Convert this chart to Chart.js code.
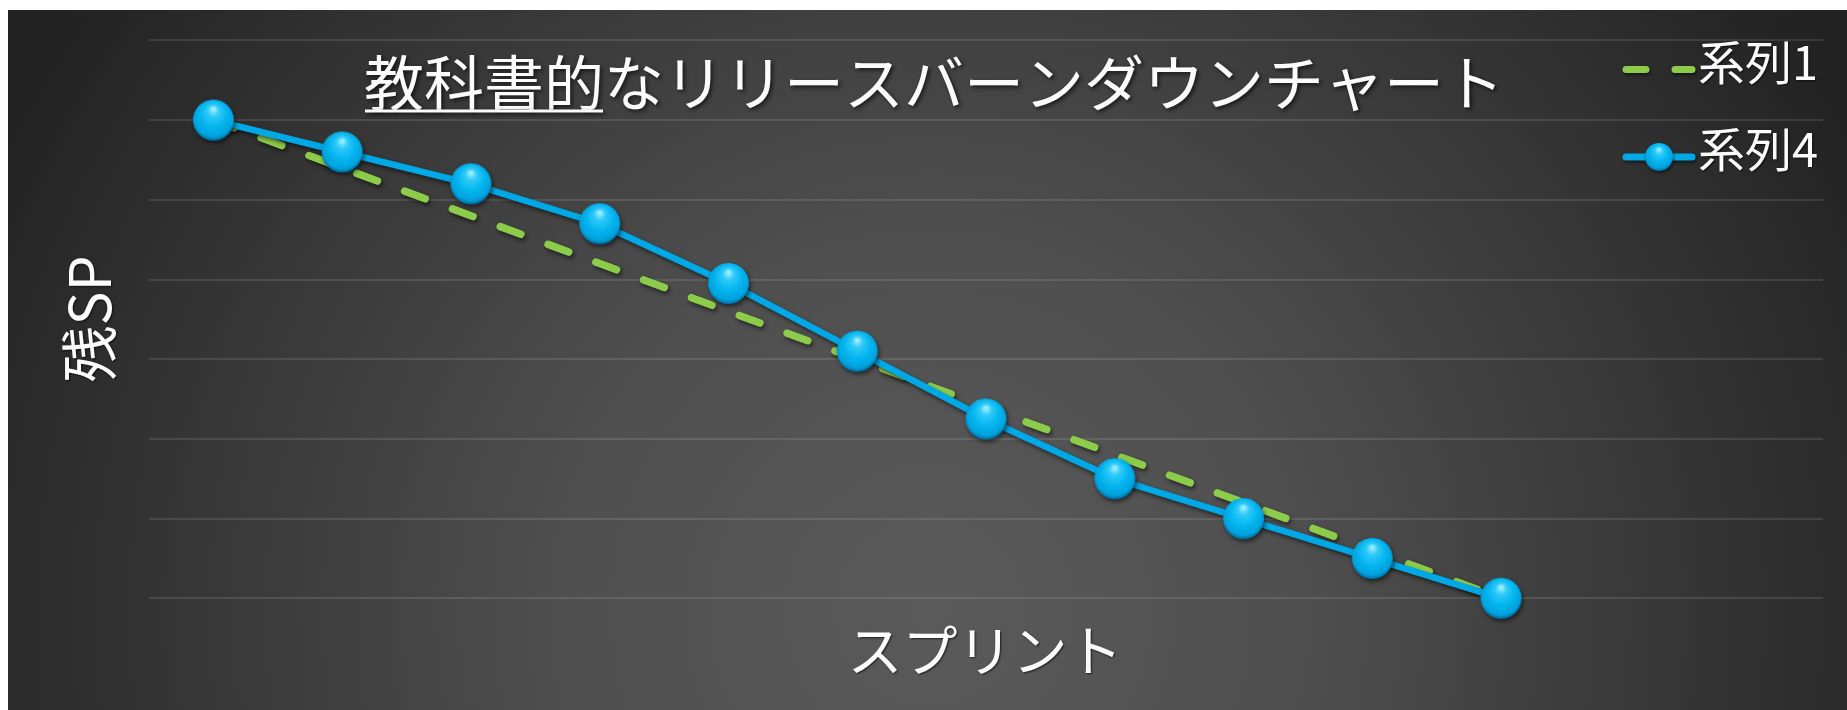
<!DOCTYPE html>
<html lang="ja">
<head>
<meta charset="utf-8">
<title>リリースバーンダウンチャート</title>
<script src="https://cdn.jsdelivr.net/npm/chart.js@4.4.1/dist/chart.umd.min.js"></script>
<style>
  html, body { margin: 0; padding: 0; background: #ffffff; }
  #wrap { position: absolute; left: 8px; top: 10px; width: 1839px; height: 700px; }
  canvas { display: block; }
</style>
</head>
<body>
<div id="wrap"><canvas id="burndown" width="1839" height="700" style="width:1839px;height:700px"></canvas></div>
<script>
// Sprints along the x axis (the last two are still to come)
const sprintLabels = ['S0', 'S1', 'S2', 'S3', 'S4', 'S5', 'S6', 'S7', 'S8', 'S9', 'S10', 'S11', 'S12'];
// 系列1: ideal remaining story points
const idealRemaining = [60, 54, 48, 42, 36, 30, 24, 18, 12, 6, 0];
// 系列4: actual remaining story points
const actualRemaining = [60, 56, 52, 47, 39.5, 31, 22.5, 15, 10, 5, 0];
// y axis range (tick labels are hidden, only grid lines show)
const yAxisMin = 0;
const yAxisMax = 70;
const yAxisStep = 10;

const seriesNames = ['系列1', '系列4'];
const titleUnderlined = '教科書的';
const titleRest = 'なリリースバーンダウンチャート';
const xAxisTitle = 'スプリント';
const yAxisTitle = '残SP';

const JP_FONT = '"Noto Sans CJK JP", "Noto Sans", sans-serif';
const BLUE = '#00a8e6';
const GREEN = '#8dcc4b';

// Glossy sphere used as the point marker
function makeSphere(r) {
  const size = Math.ceil(r * 2 + 2);
  const c = document.createElement('canvas');
  c.width = size; c.height = size;
  const g = c.getContext('2d');
  const cx = size / 2, cy = size / 2;
  const grad = g.createRadialGradient(cx, cy - r * 0.55, r * 0.05, cx, cy - r * 0.1, r * 1.12);
  grad.addColorStop(0, '#9eeeff');
  grad.addColorStop(0.22, '#2fcaf8');
  grad.addColorStop(0.55, '#05b6f0');
  grad.addColorStop(0.85, '#00a3de');
  grad.addColorStop(1, '#00689a');
  g.beginPath();
  g.arc(cx, cy, r, 0, Math.PI * 2);
  g.fillStyle = grad;
  g.fill();
  return c;
}
const sphereMarker = makeSphere(20.5);
const sphereLegend = makeSphere(14);

// Background: soft radial glow on dark grey
const backgroundPlugin = {
  id: 'darkGlow',
  beforeDraw(chart) {
    const { ctx, width, height } = chart;
    ctx.save();
    const grad = ctx.createRadialGradient(922, 600, 0, 922, 600, 1050);
    grad.addColorStop(0, '#5a5a5a');
    grad.addColorStop(0.35, '#4f4f4f');
    grad.addColorStop(1, '#222222');
    ctx.fillStyle = grad;
    ctx.fillRect(0, 0, width, height);
    ctx.restore();
  }
};

// Soft shadow under the lines and markers
const shadowPlugin = {
  id: 'seriesShadow',
  beforeDatasetDraw(chart) {
    const ctx = chart.ctx;
    ctx.save();
    ctx.shadowColor = 'rgba(0,0,0,0.55)';
    ctx.shadowBlur = 4;
    ctx.shadowOffsetX = 1.5;
    ctx.shadowOffsetY = 2.5;
  },
  afterDatasetDraw(chart) {
    chart.ctx.restore();
  }
};

function shadowText(ctx, text, x, y, blur, off) {
  ctx.save();
  ctx.shadowColor = 'rgba(0,0,0,0.65)';
  ctx.shadowBlur = blur;
  ctx.shadowOffsetX = off;
  ctx.shadowOffsetY = off;
  ctx.fillStyle = '#fbfbfb';
  ctx.fillText(text, x, y);
  ctx.restore();
}

// Title, axis titles and legend drawn over the plot
const textPlugin = {
  id: 'overlayText',
  afterDraw(chart) {
    const ctx = chart.ctx;
    ctx.save();

    // Title with the first word underlined
    ctx.font = '400 60px ' + JP_FONT;
    ctx.textBaseline = 'middle';
    ctx.textAlign = 'left';
    const tx = 356, ty = 73;
    shadowText(ctx, titleUnderlined + titleRest, tx, ty, 4, 2);
    const uw = ctx.measureText(titleUnderlined).width;
    ctx.save();
    ctx.shadowColor = 'rgba(0,0,0,0.65)';
    ctx.shadowBlur = 4; ctx.shadowOffsetX = 2; ctx.shadowOffsetY = 2;
    ctx.fillStyle = '#fbfbfb';
    ctx.fillRect(tx + 1, 99.5, uw - 2, 3);
    ctx.restore();

    // Axis titles
    ctx.font = '400 55px ' + JP_FONT;
    ctx.textAlign = 'center';
    shadowText(ctx, xAxisTitle, 977, 640, 2, 1);
    ctx.save();
    ctx.translate(81, 309);
    ctx.rotate(-Math.PI / 2);
    ctx.font = '400 57px ' + JP_FONT;
    shadowText(ctx, yAxisTitle, 0, 0, 2, 1);
    ctx.restore();

    // Legend
    ctx.font = '400 47px ' + JP_FONT;
    ctx.textAlign = 'left';
    shadowText(ctx, seriesNames[0], 1690, 52, 2, 1);
    shadowText(ctx, seriesNames[1], 1690, 139, 2, 1);

    ctx.save();
    ctx.shadowColor = 'rgba(0,0,0,0.5)';
    ctx.shadowBlur = 3; ctx.shadowOffsetX = 1; ctx.shadowOffsetY = 2;
    ctx.lineCap = 'round';
    ctx.lineWidth = 7;
    ctx.strokeStyle = GREEN;
    ctx.beginPath();
    ctx.moveTo(1618, 59.5); ctx.lineTo(1638, 59.5);
    ctx.moveTo(1667, 59.5); ctx.lineTo(1684, 59.5);
    ctx.stroke();
    ctx.strokeStyle = BLUE;
    ctx.beginPath();
    ctx.moveTo(1618, 147); ctx.lineTo(1684, 147);
    ctx.stroke();
    ctx.drawImage(sphereLegend, 1651 - sphereLegend.width / 2, 147 - sphereLegend.height / 2);
    ctx.restore();

    ctx.restore();
  }
};

new Chart(document.getElementById('burndown'), {
  type: 'line',
  data: {
    labels: sprintLabels,
    datasets: [
      {
        label: seriesNames[1],
        data: actualRemaining,
        borderColor: BLUE,
        borderWidth: 6.5,
        pointStyle: sphereMarker,
        pointRadius: 20,
        pointHoverRadius: 20,
        tension: 0,
        clip: false,
        order: 0
      },
      {
        label: seriesNames[0],
        data: idealRemaining,
        borderColor: GREEN,
        borderWidth: 7.5,
        borderDash: [22, 29],
        borderCapStyle: 'round',
        pointRadius: 0,
        pointHoverRadius: 0,
        tension: 0,
        clip: false,
        order: 1
      }
    ]
  },
  options: {
    responsive: false,
    animation: false,
    devicePixelRatio: 1,
    events: [],
    layout: {
      autoPadding: false,
      padding: { left: 141, right: 24, top: 30.4, bottom: 111.7 }
    },
    plugins: {
      legend: { display: false },
      title: { display: false },
      tooltip: { enabled: false }
    },
    scales: {
      x: {
        type: 'category',
        offset: true,
        display: false,
        grid: { display: false }
      },
      y: {
        min: yAxisMin,
        max: yAxisMax,
        ticks: { display: false, stepSize: yAxisStep },
        border: { display: false },
        grid: {
          color: 'rgba(255,255,255,0.11)',
          lineWidth: 2,
          drawTicks: false,
          tickLength: 0
        }
      }
    }
  },
  plugins: [backgroundPlugin, shadowPlugin, textPlugin]
});
</script>
</body>
</html>
